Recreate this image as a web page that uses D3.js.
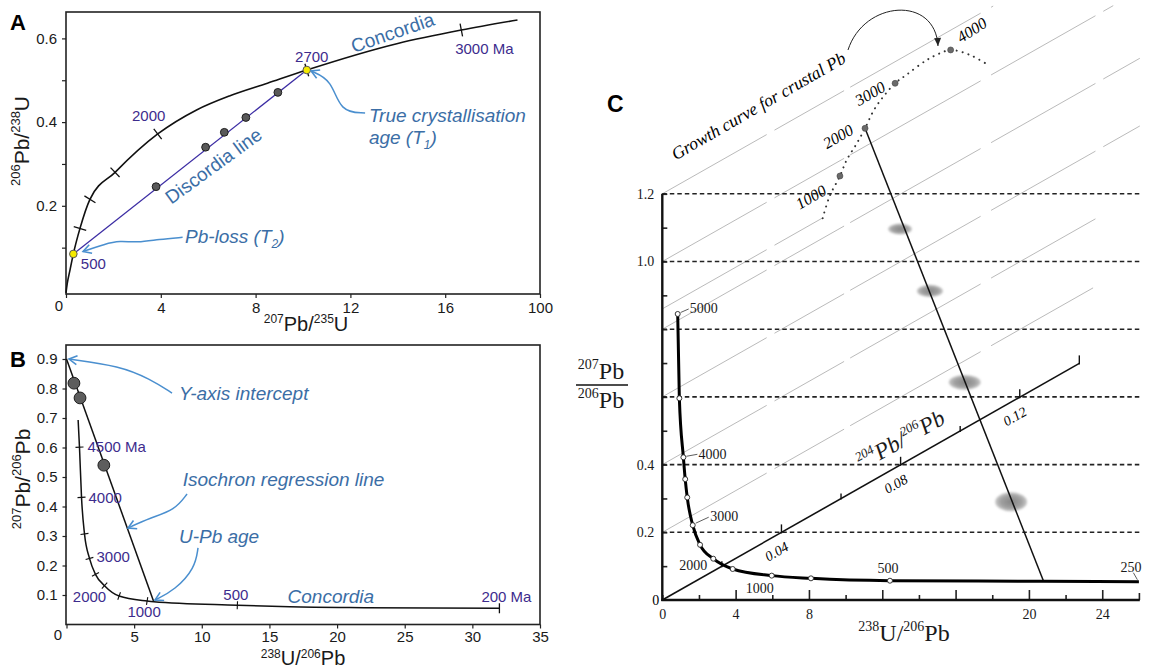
<!DOCTYPE html>
<html><head><meta charset="utf-8">
<script src="https://cdn.jsdelivr.net/npm/d3@7"></script>
<style>body{margin:0;background:#fff}svg{display:block}</style>
</head><body>
<svg id="chart" width="1158" height="668"></svg>
<script>
// ================= DATA =================
// ---- Panel A : Wetherill concordia ----
const aConcordia = [[0,-0.008],[0.055,0.015],[0.17,0.047],[0.31,0.085],[0.59,0.146],[1.01,0.2155],[2.07,0.28],[3.87,0.3716],[5.51,0.429],[6.92,0.463],[8.5,0.493],[10.16,0.5245],[14.0,0.588],[16.68,0.62],[19.05,0.644]];
const aTicks = [[0.59,0.146],[1.01,0.2155],[2.07,0.28],[3.87,0.3716],[10.16,0.5245],[16.68,0.62]];
const aAgeLabels = ["500","2000","2700","3000 Ma"];
const aAgePoints = [[0.31,0.085],[3.87,0.3716],[10.16,0.5245],[16.68,0.62]];
const aIntercepts = [[0.31,0.085],[10.16,0.5245]];
const aSamples = [[3.8,0.2457],[5.89,0.34],[6.68,0.3756],[7.59,0.411],[8.94,0.471]];
const aXTicks = [0,4,8,12,16,20];
const aXTickLabels = ["","4","8","12","16","100"];
const aYTicks = [0.1,0.2,0.3,0.4,0.5,0.6];
const aYTickLabels = ["","0.2","","0.4","","0.6"];

// ---- Panel B : Tera-Wasserburg ----
const bConcordia = [[0.86,0.693],[0.96,0.601],[1.11,0.431],[1.33,0.307],[1.70,0.224],[2.14,0.170],[2.81,0.1316],[3.89,0.0966],[5.96,0.0797],[6.45,0.0773],[12.63,0.0655],[16.5,0.060],[22,0.057],[32,0.055]];
const bTicks = [[0.96,0.601],[1.11,0.431],[1.33,0.307],[1.70,0.224],[2.14,0.170],[2.81,0.1316],[3.89,0.0966],[5.96,0.0797],[12.63,0.0655]];
const bAgeLabels = ["4500 Ma","4000","3000","2000","1000","500","200 Ma"];
const bAgePoints = [[0.96,0.601],[1.11,0.431],[1.70,0.224],[2.81,0.1316],[5.96,0.0797],[12.63,0.0655],[32,0.055]];
const bIsochron = [[0,0.9],[6.45,0.0773]];
const bSamples = [[0.55,0.818],[1.0,0.768],[2.76,0.54]];
const bXTicks = [0,5,10,15,20,25,30,35];
const bXTickLabels = ["","5","10","15","20","25","30","35"];
const bYTicks = [0.1,0.2,0.3,0.4,0.5,0.6,0.7,0.8,0.9];
const bYTickLabels = ["0.1","0.2","0.3","0.4","0.5","0.6","0.7","0.8","0.9"];

// ---- Panel C : 3-D isochron ----
const cConcordia = [[0.84,0.845],[0.93,0.596],[1.15,0.4216],[1.25,0.357],[1.36,0.303],[1.66,0.221],[2.06,0.163],[2.78,0.122],[3.84,0.0916],[5.97,0.072],[8.11,0.064],[12.42,0.057],[20.8,0.0555],[26.0,0.054]];
const cConcordiaMarks = [[0.84,0.845],[0.93,0.596],[1.15,0.4216],[1.25,0.357],[1.36,0.303],[1.66,0.221],[2.06,0.163],[2.78,0.122],[3.84,0.0916],[5.97,0.072],[8.11,0.064],[12.42,0.057]];
const cAgeLabels = ["5000","4000","3000","2000","1000","500","250"];
const cAgePoints = [[0.84,0.845],[1.15,0.4216],[1.66,0.221],[2.78,0.122],[5.97,0.072],[12.42,0.057],[26.0,0.054]];
const cGrowthCurve = [[8.75,1.128],[9.13,1.193],[9.69,1.2526],[10.06,1.30],[10.61,1.349],[11.06,1.3935],[11.55,1.448],[12.1,1.49],[12.70,1.5264],[13.33,1.552],[14.42,1.595],[15.15,1.615],[15.73,1.625],[16.79,1.61],[17.79,1.58]];
const cGrowthAges = ["1000","2000","3000","4000"];
const cGrowthPoints = [[9.69,1.2526],[11.06,1.3935],[12.70,1.5264],[15.73,1.625]];
const cIsochron = [[11.06,1.3935],[20.8,0.0555]];
const cEllipses = [[12.97,1.096,0.65,0.016],[14.6,0.913,0.71,0.018],[16.5,0.643,0.87,0.022],[19.03,0.29,0.87,0.028]]; // x, y, err x, err y
const cPb204End = [22.75,0.699];   // data position of 204Pb/206Pb = 0.14
const cPb204Max = 0.14;
const cPb204Ticks = [0.02,0.04,0.06,0.08,0.10,0.12,0.14];
const cPb204Labels = ["","0.04","","0.08","","0.12",""];
const cGridIntercepts = [1.2,1.0,0.86,0.8,0.6,0.4,0.2];
const cGridEnds = [18.05,24.6,8.75,26.05,26.05,23.7,23.5];
const cDashedLevels = [0.2,0.4,0.6,0.8,1.0,1.2];
const cXTicks = [0,2,4,6,8,10,12,14,16,18,20,22,24,26];
const cXTickLabels = ["0","","4","","8","","","","","","20","","24",""];
const cYTicks = [0.1,0.2,0.3,0.4,0.5,0.6,0.7,0.8,0.9,1.0,1.1,1.2];
const cYTickLabels = ["","0.2","","0.4","","","","","","1.0","","1.2"];

// ================= DRAWING =================
const SANS = "Liberation Sans, Arial, sans-serif";
const SERIF = "Liberation Serif, Times New Roman, serif";
const PURPLE = "#3d2c8d", BLUE_T = "#3b6ea6", BLUE_A = "#4a8fcf";

const svg = d3.select("#chart");
svg.append("rect").attr("width",1158).attr("height",668).attr("fill","#fff");
const defs = svg.append("defs");
defs.append("marker").attr("id","arrBlue").attr("viewBox","-10 -6 12 12")
  .attr("refX",0).attr("refY",0).attr("markerWidth",12).attr("markerHeight",12)
  .attr("markerUnits","userSpaceOnUse").attr("orient","auto")
  .append("path").attr("d","M-8,-4.5 L0,0 L-8,4.5").attr("fill","none")
  .attr("stroke",BLUE_A).attr("stroke-width",1.6);
defs.append("marker").attr("id","arrBlack").attr("viewBox","-10 -6 12 12")
  .attr("refX",0).attr("refY",0).attr("markerWidth",12).attr("markerHeight",12)
  .attr("markerUnits","userSpaceOnUse").attr("orient","auto")
  .append("path").attr("d","M-8,-3.5 L0,0 L-8,3.5 Z").attr("fill","#222");
const rg = defs.append("radialGradient").attr("id","ellGrad");
rg.append("stop").attr("offset","0%").attr("stop-color","#858585");
rg.append("stop").attr("offset","65%").attr("stop-color","#a0a0a0");
rg.append("stop").attr("offset","100%").attr("stop-color","#c8c8c8");
defs.append("filter").attr("id","soft").append("feGaussianBlur").attr("stdDeviation",0.9);

function richText(parent, parts, o){
  const t = parent.append("text").attr("x",o.x).attr("y",o.y)
    .attr("font-size",o.size).attr("font-family",o.family||SANS)
    .attr("text-anchor",o.anchor||"start").attr("fill",o.fill||"#1a1a1a");
  if(o.style) t.attr("font-style",o.style);
  if(o.rotate!==undefined) t.attr("transform",`rotate(${o.rotate},${o.x},${o.y})`);
  let shift = 0;
  const up = o.supRaise || 0.42;
  parts.forEach(([s,kind])=>{
    const ts = t.append("tspan").text(s);
    let target = 0;
    if(kind==="sup"){ target = -o.size*up; ts.attr("font-size",o.supSize||o.size*0.6); }
    else if(kind==="sub"){ target = o.size*0.25; ts.attr("font-size",o.supSize||o.size*0.6); }
    if(target-shift!==0) ts.attr("dy",target-shift);
    shift = target;
  });
  return t;
}
function styleAxis(g,size,family){
  g.attr("font-size",size).attr("font-family",family);
  g.selectAll(".tick line").attr("stroke","#222").attr("stroke-width",1.2);
  g.selectAll(".tick text").attr("fill","#1a1a1a");
}
function tickMarks(g, curve, ticks, sx, sy, len, w){
  ticks.forEach(tk=>{
    const i = curve.findIndex(p=>p[0]===tk[0]&&p[1]===tk[1]);
    const a = curve[Math.max(i-1,0)], b = curve[Math.min(i+1,curve.length-1)];
    let dx = sx(b[0])-sx(a[0]), dy = sy(b[1])-sy(a[1]);
    const L = Math.hypot(dx,dy); dx/=L; dy/=L;
    const px = sx(tk[0]), py = sy(tk[1]);
    g.append("line").attr("x1",px-dy*len/2).attr("y1",py+dx*len/2)
      .attr("x2",px+dy*len/2).attr("y2",py-dx*len/2)
      .attr("stroke","#111").attr("stroke-width",w);
  });
}
function arrow(g, pts, sx, sy, marker, color, w){
  const p = pts.map(d=>[sx(d[0]),sy(d[1])]);
  g.append("path").attr("d",d3.line().curve(d3.curveBasis)(p))
   .attr("fill","none").attr("stroke",color).attr("stroke-width",w)
   .attr("marker-end",`url(#${marker})`);
}

// ---------- PANEL A ----------
const xA = d3.scaleLinear().domain([0,20]).range([66,540]);
const yA = d3.scaleLinear().domain([0,0.6]).range([289.5,38.4]);
const gA = svg.append("g");
const axAy = gA.append("g").attr("transform",`translate(${xA(0)},0)`)
  .call(d3.axisLeft(yA).tickValues(aYTicks).tickSize(4).tickPadding(5).tickFormat((d,i)=>aYTickLabels[i]));
axAy.select(".domain").remove(); styleAxis(axAy,15,SANS);
const axAx = gA.append("g").attr("transform","translate(0,294)")
  .call(d3.axisBottom(xA).tickValues(aXTicks).tickSize(4).tickPadding(4).tickFormat((d,i)=>aXTickLabels[i]));
axAx.select(".domain").remove(); styleAxis(axAx,15,SANS);
gA.append("text").attr("x",59).attr("y",311).attr("text-anchor","middle").attr("font-size",15).attr("font-family",SANS).attr("fill","#1a1a1a").text("0");
gA.append("rect").attr("x",66).attr("y",12).attr("width",474).attr("height",282)
  .attr("fill","none").attr("stroke","#222").attr("stroke-width",1.6);

const lineA = d3.line().x(d=>xA(d[0])).y(d=>yA(d[1])).curve(d3.curveMonotoneX);
gA.append("path").attr("d",lineA(aConcordia)).attr("fill","none").attr("stroke","#111").attr("stroke-width",1.6);
tickMarks(gA, aConcordia, aTicks, xA, yA, 13, 1.3);
gA.append("path").attr("d",d3.line().x(d=>xA(d[0])).y(d=>yA(d[1]))(aIntercepts))
  .attr("fill","none").attr("stroke","#3b2ca3").attr("stroke-width",1.3);
gA.selectAll("circle.s").data(aSamples).join("circle").attr("class","s")
  .attr("cx",d=>xA(d[0])).attr("cy",d=>yA(d[1])).attr("r",3.9)
  .attr("fill","#595959").attr("stroke","#1e1e1e").attr("stroke-width",1);
gA.selectAll("circle.y").data(aIntercepts).join("circle").attr("class","y")
  .attr("cx",d=>xA(d[0])).attr("cy",d=>yA(d[1])).attr("r",3.8)
  .attr("fill","#f4ea00").attr("stroke","#555").attr("stroke-width",1);
const aLabOff = [[20,10],[-9,-18],[5,-13],[23,19]];
aAgeLabels.forEach((s,i)=>{
  gA.append("text").attr("x",xA(aAgePoints[i][0])+aLabOff[i][0]).attr("y",yA(aAgePoints[i][1])+aLabOff[i][1])
    .attr("dy","0.35em").attr("text-anchor","middle").attr("font-size",15).attr("font-family",SANS)
    .attr("fill",PURPLE).text(s);
});
// annotations A
gA.append("text").attr("x",xA(13.78)).attr("y",yA(0.614)).attr("dy","0.35em").attr("text-anchor","middle")
  .attr("transform",`rotate(-19,${xA(13.78)},${yA(0.614)})`).attr("font-size",19).attr("font-family",SANS)
  .attr("fill",BLUE_T).text("Concordia");
gA.append("text").attr("x",xA(6.22)).attr("y",yA(0.2956)).attr("dy","0.35em").attr("text-anchor","middle")
  .attr("transform",`rotate(-36,${xA(6.22)},${yA(0.2956)})`).attr("font-size",19).attr("font-family",SANS)
  .attr("fill",BLUE_T).text("Discordia line");
richText(gA,[["True crystallisation"]],{x:xA(12.78),y:yA(0.4002),size:19,style:"italic",fill:BLUE_T});
richText(gA,[["age (T"],["1","sub"],[")"]],{x:xA(12.78),y:yA(0.3477),size:19,supSize:12,style:"italic",fill:BLUE_T});
richText(gA,[["Pb-loss (T"],["2","sub"],[")"]],{x:xA(5.02),y:yA(0.111),size:19,supSize:12,style:"italic",fill:BLUE_T});
arrow(gA,[[12.62,0.4217],[11.56,0.4241],[11.22,0.5006],[10.34,0.5221]],xA,yA,"arrBlue",BLUE_A,1.5);
arrow(gA,[[4.92,0.1247],[3.92,0.12],[3.02,0.1118],[2.25,0.1166],[1.65,0.1087],[0.72,0.0908]],xA,yA,"arrBlue",BLUE_A,1.5);
// axis titles A
richText(gA,[["207","sup"],["Pb/"],["235","sup"],["U"]],{x:306,y:331,size:20,supSize:12,anchor:"middle",supRaise:0.38});
richText(gA,[["206","sup"],["Pb/"],["238","sup"],["U"]],{x:29,y:141,size:21,supSize:13,anchor:"middle",rotate:-90});
gA.append("text").attr("x",10).attr("y",30).attr("font-size",22).attr("font-weight","bold").attr("font-family",SANS).text("A");

// ---------- PANEL B ----------
const xB = d3.scaleLinear().domain([0,35]).range([66.5,540]);
const yB = d3.scaleLinear().domain([0,0.9]).range([624.5,359]);
const gB = svg.append("g");
const axBy = gB.append("g").attr("transform",`translate(${xB(0)},0)`)
  .call(d3.axisLeft(yB).tickValues(bYTicks).tickSize(4).tickPadding(5).tickFormat((d,i)=>bYTickLabels[i]));
axBy.select(".domain").remove(); styleAxis(axBy,15,SANS);
const axBx = gB.append("g").attr("transform",`translate(0,${yB(0)})`)
  .call(d3.axisBottom(xB).tickValues(bXTicks).tickSize(4).tickPadding(3).tickFormat((d,i)=>bXTickLabels[i]));
axBx.select(".domain").remove(); styleAxis(axBx,15,SANS);
gB.append("text").attr("x",58).attr("y",640).attr("text-anchor","middle").attr("font-size",15).attr("font-family",SANS).attr("fill","#1a1a1a").text("0");
gB.append("rect").attr("x",66).attr("y",345).attr("width",474).attr("height",yB(0)-345)
  .attr("fill","none").attr("stroke","#222").attr("stroke-width",1.6);
const lineB = d3.line().x(d=>xB(d[0])).y(d=>yB(d[1])).curve(d3.curveMonotoneX);
gB.append("path").attr("d",lineB(bConcordia)).attr("fill","none").attr("stroke","#111").attr("stroke-width",1.5);
tickMarks(gB, bConcordia, bTicks, xB, yB, 8, 1.1);
{ const e = bConcordia[bConcordia.length-1];
  gB.append("line").attr("x1",xB(e[0])).attr("x2",xB(e[0])).attr("y1",yB(e[1])-5).attr("y2",yB(e[1])+5).attr("stroke","#111").attr("stroke-width",1.3); }
gB.append("path").attr("d",d3.line().x(d=>xB(d[0])).y(d=>yB(d[1]))(bIsochron))
  .attr("fill","none").attr("stroke","#111").attr("stroke-width",1.5);
gB.selectAll("circle.s").data(bSamples).join("circle").attr("class","s")
  .attr("cx",d=>xB(d[0])).attr("cy",d=>yB(d[1])).attr("r",5.9)
  .attr("fill","#5d5d5d").attr("stroke","#1e1e1e").attr("stroke-width",1);
const bLabOff = [[8,0,"start"],[7,0,"start"],[7,-2,"start"],[-15,11,"middle"],[-3,11,"middle"],[-1.5,-10,"middle"],[7,-11.5,"middle"]];
bAgeLabels.forEach((s,i)=>{
  gB.append("text").attr("x",xB(bAgePoints[i][0])+bLabOff[i][0]).attr("y",yB(bAgePoints[i][1])+bLabOff[i][1])
    .attr("dy","0.35em").attr("text-anchor",bLabOff[i][2]).attr("font-size",15).attr("font-family",SANS)
    .attr("fill",PURPLE).text(s);
});
richText(gB,[["Y-axis intercept"]],{x:xB(8.31),y:yB(0.761),size:19,style:"italic",fill:BLUE_T});
richText(gB,[["Isochron regression line"]],{x:xB(8.59),y:yB(0.47),size:19,style:"italic",fill:BLUE_T});
richText(gB,[["U-Pb age"]],{x:xB(8.31),y:yB(0.2747),size:19,style:"italic",fill:BLUE_T});
richText(gB,[["Concordia"]],{x:xB(16.34),y:yB(0.0729),size:19,style:"italic",fill:BLUE_T});
arrow(gB,[[7.80,0.7846],[6.17,0.8321],[3.95,0.8762],[0.185,0.8997]],xB,yB,"arrBlue",BLUE_A,1.5);
arrow(gB,[[8.91,0.4425],[8.02,0.3883],[6.17,0.3611],[4.55,0.3272]],xB,yB,"arrBlue",BLUE_A,1.5);
arrow(gB,[[9.72,0.2594],[9.50,0.1916],[8.02,0.1170],[6.54,0.0831]],xB,yB,"arrBlue",BLUE_A,1.5);
richText(gB,[["238","sup"],["U/"],["206","sup"],["Pb"]],{x:303,y:665,size:20,supSize:12,anchor:"middle",supRaise:0.36});
richText(gB,[["207","sup"],["Pb/"],["206","sup"],["Pb"]],{x:30,y:479,size:21,supSize:13,anchor:"middle",rotate:-90});
gB.append("text").attr("x",10).attr("y",367).attr("font-size",22).attr("font-weight","bold").attr("font-family",SANS).text("B");

// ---------- PANEL C ----------
const xC = d3.scaleLinear().domain([0,26]).range([662.3,1138.9]);
const yC = d3.scaleLinear().domain([0,1.2]).range([600,193.8]);
const gC = svg.append("g");
const kSlope = cPb204End[1]/cPb204End[0];
// grey diagonal lines
cGridIntercepts.forEach((b,i)=>{
  gC.append("line").attr("x1",xC(0)).attr("y1",yC(b)).attr("x2",xC(cGridEnds[i])).attr("y2",yC(b+kSlope*cGridEnds[i]))
    .attr("stroke","#9c9c9c").attr("stroke-width",0.7).attr("stroke-dasharray","120,9,80,7,150,12");
});
// dashed horizontals
cDashedLevels.forEach(v=>{
  gC.append("line").attr("x1",xC(0)).attr("x2",xC(26.05)).attr("y1",yC(v)).attr("y2",yC(v))
    .attr("stroke","#222").attr("stroke-width",1.6).attr("stroke-dasharray","4.5,3");
});
// axes
const axCy = gC.append("g").attr("transform",`translate(${xC(0)},0)`)
  .call(d3.axisLeft(yC).tickValues(cYTicks).tickSize(-5).tickPadding(8).tickFormat((d,i)=>cYTickLabels[i]));
axCy.select(".domain").remove(); styleAxis(axCy,14,SERIF);
const axCx = gC.append("g").attr("transform",`translate(0,${yC(0)})`)
  .call(d3.axisBottom(xC).tickValues(cXTicks).tickSize(-5).tickPadding(9).tickFormat((d,i)=>cXTickLabels[i]));
axCx.select(".domain").remove(); styleAxis(axCx,14,SERIF);
axCx.selectAll(".tick line").attr("y2",(d,i)=> (cXTicks[i]%4===0 && cXTicks[i]>0) ? -10 : (cXTicks[i]===26 ? -7 : -5)).attr("stroke-width",1.6);
axCy.selectAll(".tick line").attr("stroke-width",1.6);
gC.append("line").attr("x1",xC(0)).attr("x2",xC(0)).attr("y1",yC(0)+1).attr("y2",yC(1.2)).attr("stroke","#111").attr("stroke-width",2.4);
gC.append("line").attr("x1",xC(0)-1).attr("x2",xC(26.05)).attr("y1",yC(0)).attr("y2",yC(0)).attr("stroke","#111").attr("stroke-width",2.4);
gC.append("text").attr("x",xC(0)-3).attr("y",yC(0)).attr("dy","0.35em").attr("text-anchor","end").attr("font-size",14).attr("font-family",SERIF).text("0");

// 204Pb/206Pb axis
const pbPt = t=>[xC(t/cPb204Max*cPb204End[0]), yC(t/cPb204Max*cPb204End[1])];
gC.append("line").attr("x1",xC(0)).attr("y1",yC(0)).attr("x2",pbPt(cPb204Max)[0]).attr("y2",pbPt(cPb204Max)[1])
  .attr("stroke","#111").attr("stroke-width",1.6);
const angC = Math.atan2(pbPt(cPb204Max)[1]-yC(0), pbPt(cPb204Max)[0]-xC(0))*180/Math.PI;
cPb204Ticks.forEach((t,i)=>{
  const [px,py] = pbPt(t);
  const len = (i%2===1 || i===cPb204Ticks.length-1) ? 8 : 5;
  gC.append("line").attr("x1",px).attr("x2",px).attr("y1",py+1).attr("y2",py-len).attr("stroke","#111").attr("stroke-width",1.4);
  if(cPb204Labels[i]){
    gC.append("text").attr("transform",`translate(${px},${py}) rotate(${angC})`)
      .attr("x",-13.7).attr("y",14.1).attr("dy","0.35em").attr("text-anchor","middle")
      .attr("font-size",14).attr("font-style","italic").attr("font-family",SERIF).text(cPb204Labels[i]);
  }
});
{ const [px,py] = pbPt(0.0696);
  const g = gC.append("g").attr("transform",`translate(${px},${py}) rotate(${angC})`);
  richText(g,[["204","sup"],["Pb/"],["206","sup"],["Pb"]],{x:0,y:-14,size:23,supSize:13,family:SERIF,style:"italic"});
}
// ellipses then isochron
gC.selectAll("ellipse").data(cEllipses).join("ellipse")
  .attr("cx",d=>xC(d[0])).attr("cy",d=>yC(d[1]))
  .attr("rx",d=>xC(d[0]+d[2])-xC(d[0])).attr("ry",d=>yC(d[1]-d[3])-yC(d[1]))
  .attr("fill","url(#ellGrad)").attr("filter","url(#soft)");
gC.append("path").attr("d",d3.line().x(d=>xC(d[0])).y(d=>yC(d[1]))(cIsochron))
  .attr("fill","none").attr("stroke","#111").attr("stroke-width",1.5);
// growth curve
gC.append("path").attr("d",d3.line().x(d=>xC(d[0])).y(d=>yC(d[1])).curve(d3.curveCatmullRom)(cGrowthCurve))
  .attr("fill","none").attr("stroke","#333").attr("stroke-width",2).attr("stroke-linecap","round").attr("stroke-dasharray","0.1,6");
gC.selectAll("circle.g").data(cGrowthPoints).join("circle").attr("class","g")
  .attr("cx",d=>xC(d[0])).attr("cy",d=>yC(d[1])).attr("r",3).attr("fill","#6a6a6a").attr("stroke","#444").attr("stroke-width",0.6);
const gOff = [[-29,21,-30],[-27,8,-30],[-25,10,-30],[21,-20,-33]];
cGrowthAges.forEach((s,i)=>{
  const x = xC(cGrowthPoints[i][0])+gOff[i][0], y = yC(cGrowthPoints[i][1])+gOff[i][1];
  gC.append("text").attr("x",x).attr("y",y).attr("dy","0.35em").attr("text-anchor","middle")
    .attr("transform",`rotate(${gOff[i][2]},${x},${y})`).attr("font-size",16).attr("font-style","italic")
    .attr("font-family",SERIF).text(s);
});
{ const x = xC(5.24), y = yC(1.46);
  gC.append("text").attr("x",x).attr("y",y).attr("dy","0.35em").attr("text-anchor","middle")
    .attr("transform",`rotate(-30,${x},${y})`).attr("font-size",17.5).attr("font-style","italic")
    .attr("font-family",SERIF).text("Growth curve for crustal Pb"); }
{ const p = [[10.13,1.6248],[11.0,1.772],[14.9,1.787],[15.04,1.6366]].map(d=>[xC(d[0]),yC(d[1])]);
  gC.append("path").attr("d",`M${p[0]}C${p[1]} ${p[2]} ${p[3]}`).attr("fill","none")
    .attr("stroke","#222").attr("stroke-width",1).attr("marker-end","url(#arrBlack)"); }
// concordia
gC.append("path").attr("d",d3.line().x(d=>xC(d[0])).y(d=>yC(d[1])).curve(d3.curveMonotoneX)(cConcordia))
  .attr("fill","none").attr("stroke","#000").attr("stroke-width",3);
gC.selectAll("circle.c").data(cConcordiaMarks).join("circle").attr("class","c")
  .attr("cx",d=>xC(d[0])).attr("cy",d=>yC(d[1])).attr("r",2.5).attr("fill","#fff").attr("stroke","#222").attr("stroke-width",0.9);
// age labels: [dx, dy, anchor, leader]
const cOff = [[12,-6,"start",[3,-1.5,11,-5]],[15,-3,"start",[3,-1,14,-3]],[17.5,-9,"start",[3,-2,16,-8]],
              [-20,6,"middle",null],[-12,12,"middle",null],[-2,-13,"middle",null],[-8,-15,"middle",[-5.5,-9,-1.5,-2]]];
cAgeLabels.forEach((s,i)=>{
  const px = xC(cAgePoints[i][0]), py = yC(cAgePoints[i][1]);
  const o = cOff[i];
  gC.append("text").attr("x",px+o[0]).attr("y",py+o[1]).attr("dy","0.35em").attr("text-anchor",o[2])
    .attr("font-size",14).attr("font-family",SERIF).attr("fill","#1a1a1a").text(s);
  if(o[3]) gC.append("line").attr("x1",px+o[3][0]).attr("y1",py+o[3][1]).attr("x2",px+o[3][2]).attr("y2",py+o[3][3])
    .attr("stroke","#333").attr("stroke-width",0.8);
});
// axis titles C
richText(gC,[["238","sup"],["U/"],["206","sup"],["Pb"]],{x:904,y:641,size:24,supSize:14,anchor:"middle",family:SERIF});
richText(gC,[["207","sup"],["Pb"]],{x:601,y:379,size:24,supSize:14,anchor:"middle",family:SERIF});
gC.append("line").attr("x1",576).attr("x2",628).attr("y1",385).attr("y2",385).attr("stroke","#111").attr("stroke-width",1.5);
richText(gC,[["206","sup"],["Pb"]],{x:601,y:408,size:24,supSize:14,anchor:"middle",family:SERIF});
gC.append("text").attr("x",607).attr("y",112).attr("font-size",23).attr("font-weight","bold").attr("font-family",SANS).text("C");
</script>
</body></html>
